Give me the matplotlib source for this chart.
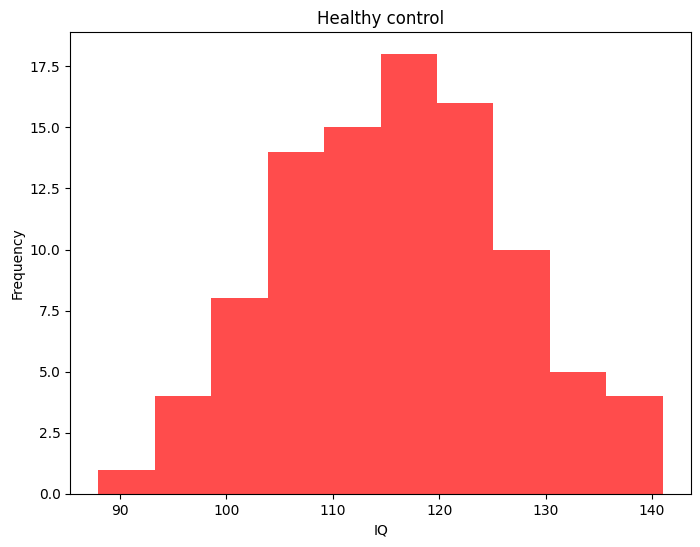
import matplotlib
matplotlib.use("Agg")
import matplotlib.pyplot as plt
import numpy as np

bin_edges = [88.0, 93.3, 98.6, 103.9, 109.2, 114.5, 119.8, 125.1, 130.4, 135.7, 141.0]
counts = [1, 4, 8, 14, 15, 18, 16, 10, 5, 4]

fig = plt.figure(figsize=(7, 5.47), dpi=100)
ax = fig.add_axes([0.1004, 0.0969, 0.8866, 0.8446])
ax.hist(bin_edges[:-1], bins=bin_edges, weights=counts, color='red', alpha=0.7)
ax.set_title("Healthy control")
ax.set_xlabel("IQ")
ax.set_ylabel("Frequency")
fig.savefig("out.png", dpi=100)
